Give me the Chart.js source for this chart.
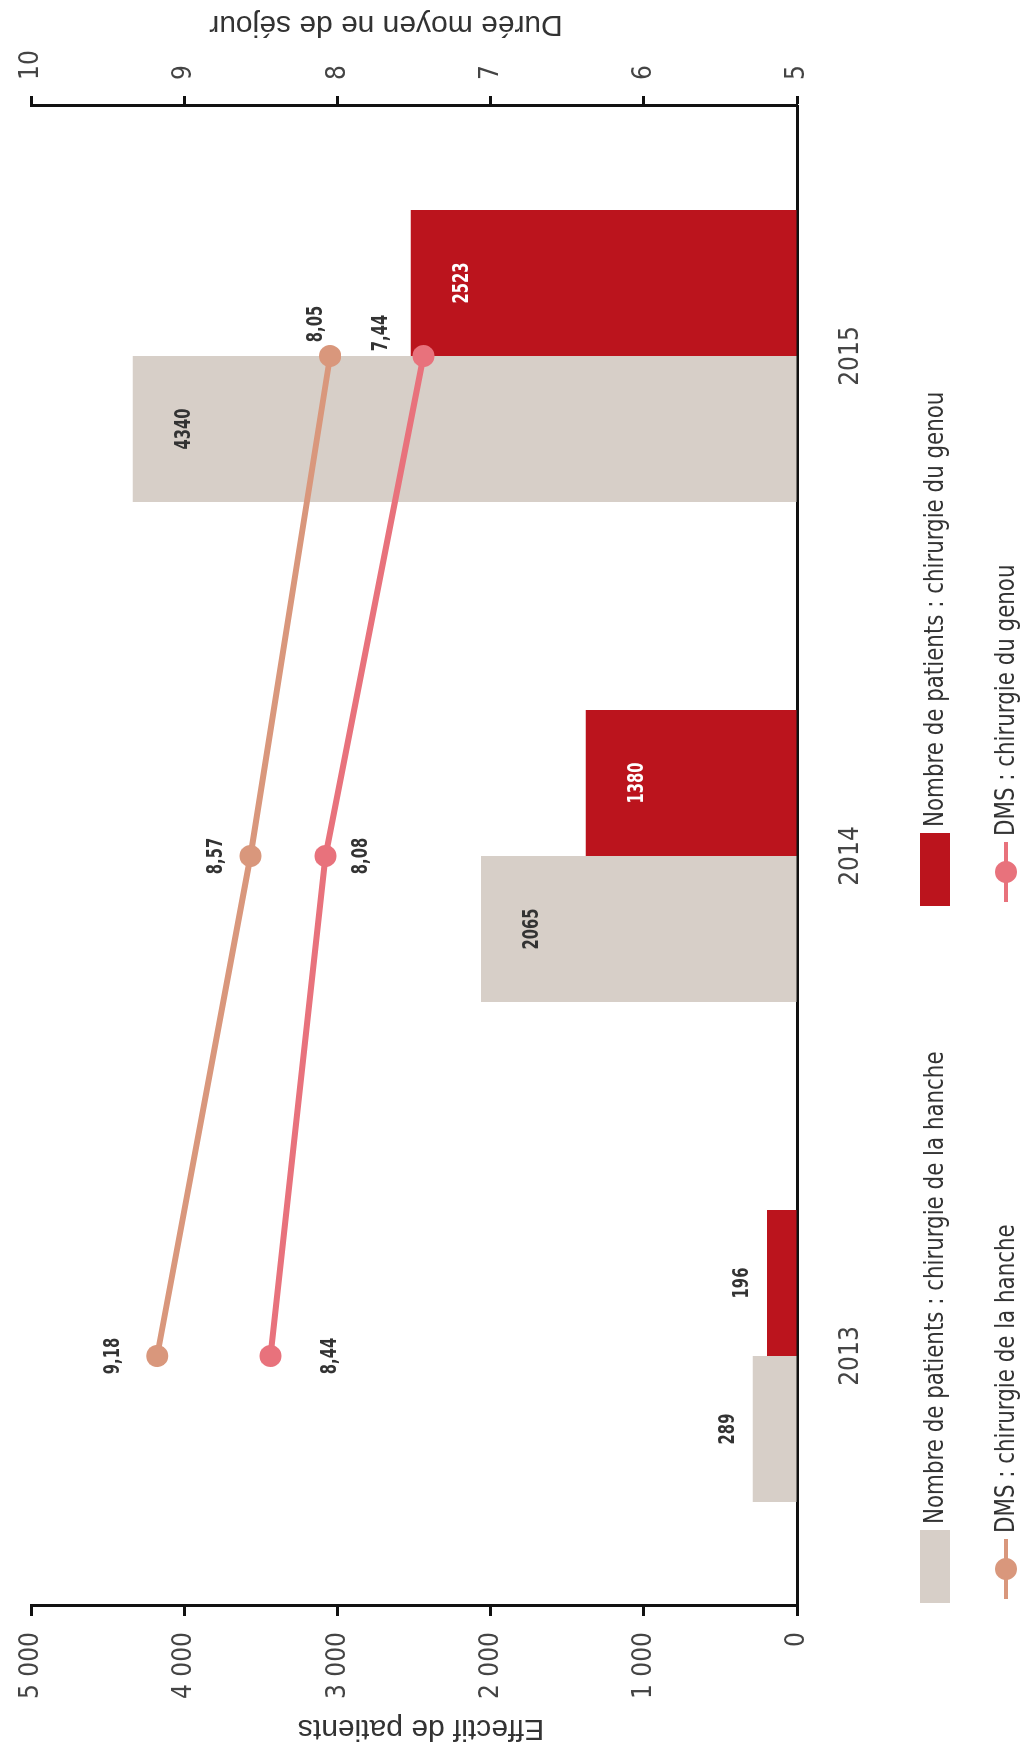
<!DOCTYPE html>
<html lang="fr">
<head>
<meta charset="utf-8">
<title>Effectif et DMS</title>
<style>
  html, body { margin: 0; padding: 0; background: #fff; overflow: hidden; }
  /* the chart is drawn landscape, then turned a quarter left */
  #wrap {
    position: absolute; left: 0; top: 0;
    width: 1758px; height: 1023px;
    transform-origin: 0 0;
    transform: translate(0, 1758px) rotate(-90deg);
  }
</style>
<script src="https://cdn.jsdelivr.net/npm/chart.js@4.4.0/dist/chart.umd.min.js"></script>
</head>
<body>
<div id="wrap"><canvas id="chart"></canvas></div>
<script>
const years = ['2013', '2014', '2015'];
const patientsHanche = [289, 2065, 4340];
const patientsGenou = [196, 1380, 2523];
const dmsHanche = [9.18, 8.57, 8.05];
const dmsGenou = [8.44, 8.08, 7.44];

const legendLabels = [
  'Nombre de patients : chirurgie de la hanche',
  'Nombre de patients : chirurgie du genou',
  'DMS : chirurgie de la hanche',
  'DMS : chirurgie du genou'
];

const GREY = '#d7cfc8';
const RED = '#bb141d';
const ORANGE = '#d9977c';
const PINK = '#e8727c';
const NARROW = '"Liberation Sans Narrow", "DejaVu Sans Condensed", "Roboto", sans-serif';

// where the value of each point sits, relative to the point (dx, dy)
const lineLabelOffsets = [
  [[0, -44], [0, -34], [32, -14]],
  [[0, 60], [0, 36], [23, -42]]
];

function frNumber(v) {
  return String(v).replace(/\B(?=(\d{3})+(?!\d))/g, ' ');
}

// squeezed text, the source uses a condensed face
function narrowText(ctx, txt, x, y, sx) {
  ctx.save();
  ctx.translate(x, y);
  ctx.scale(sx, 1);
  ctx.fillText(txt, 0, 0);
  ctx.restore();
}

const valueLabels = {
  id: 'valueLabels',
  afterDatasetsDraw(chart) {
    const ctx = chart.ctx;
    ctx.save();
    ctx.textAlign = 'center';
    ctx.textBaseline = 'middle';
    ctx.font = 'bold 21px ' + NARROW;
    chart.data.datasets.forEach((ds, di) => {
      const meta = chart.getDatasetMeta(di);
      meta.data.forEach((el, i) => {
        const v = ds.data[i];
        if (ds.type === 'bar') {
          const len = el.base - el.y;
          if (len > 70) {
            ctx.fillStyle = di === 1 ? '#fff' : '#333';
            narrowText(ctx, String(v), el.x, el.y + 52, 0.78);
          } else {
            ctx.fillStyle = '#333';
            narrowText(ctx, String(v), el.x, el.y - 24, 0.78);
          }
        } else {
          const off = lineLabelOffsets[di - 2][i];
          ctx.fillStyle = '#333';
          narrowText(ctx, v.toFixed(2).replace('.', ','), el.x + off[0], el.y + off[1], 0.78);
        }
      });
    });
    ctx.restore();
  }
};

// axis titles and the two-row legend
const extras = {
  id: 'extras',
  afterDraw(chart) {
    const ctx = chart.ctx;
    ctx.save();
    ctx.fillStyle = '#333';
    ctx.textAlign = 'center';
    ctx.textBaseline = 'middle';
    ctx.font = '30px "Liberation Sans", "Open Sans", sans-serif';
    [['Effectif de patients', 30, 421], ['Durée moyen ne de séjour', 1734, 386]].forEach(t => {
      ctx.save();
      ctx.translate(t[1], t[2]);
      ctx.rotate(-Math.PI / 2);
      ctx.fillText(t[0], 0, 0);
      ctx.restore();
    });

    const cols = [155, 852];
    const rows = [935, 1006];
    const colors = [GREY, RED, ORANGE, PINK];
    ctx.font = '27px ' + NARROW;
    ctx.textAlign = 'left';
    legendLabels.forEach((txt, k) => {
      const x = cols[k % 2];
      const y = rows[Math.floor(k / 2)];
      let tx;
      if (k < 2) {
        ctx.fillStyle = colors[k];
        ctx.fillRect(x, y - 15, 73, 30);
        tx = x + 79;
      } else {
        ctx.strokeStyle = colors[k];
        ctx.lineWidth = 4;
        ctx.beginPath();
        ctx.moveTo(x + 4, y);
        ctx.lineTo(x + 64, y);
        ctx.stroke();
        ctx.fillStyle = colors[k];
        ctx.beginPath();
        ctx.arc(x + 34, y, 11, 0, Math.PI * 2);
        ctx.fill();
        tx = x + 70;
      }
      ctx.fillStyle = '#333';
      narrowText(ctx, txt, tx, y + 1, 0.88);
    });
    ctx.restore();
  }
};

const ctx = document.getElementById('chart').getContext('2d');
new Chart(ctx, {
  data: {
    labels: years,
    datasets: [
      {
        type: 'bar',
        label: legendLabels[0],
        data: patientsHanche,
        backgroundColor: GREY,
        yAxisID: 'y',
        order: 2
      },
      {
        type: 'bar',
        label: legendLabels[1],
        data: patientsGenou,
        backgroundColor: RED,
        yAxisID: 'y',
        order: 2
      },
      {
        type: 'line',
        label: legendLabels[2],
        data: dmsHanche,
        borderColor: ORANGE,
        backgroundColor: ORANGE,
        borderWidth: 6,
        pointRadius: 11,
        pointBackgroundColor: ORANGE,
        pointBorderWidth: 0,
        yAxisID: 'y1',
        order: 1
      },
      {
        type: 'line',
        label: legendLabels[3],
        data: dmsGenou,
        borderColor: PINK,
        backgroundColor: PINK,
        borderWidth: 6,
        pointRadius: 11,
        pointBackgroundColor: PINK,
        pointBorderWidth: 0,
        yAxisID: 'y1',
        order: 1
      }
    ]
  },
  options: {
    responsive: true,
    maintainAspectRatio: false,
    animation: false,
    layout: { padding: { top: 23, left: 0, right: 0, bottom: 0 } },
    datasets: {
      bar: { categoryPercentage: 0.584, barPercentage: 1.0 }
    },
    plugins: {
      legend: { display: false },
      tooltip: { enabled: false }
    },
    scales: {
      x: {
        grid: { display: true, drawOnChartArea: false, drawTicks: false },
        border: { display: true, color: '#111', width: 3 },
        ticks: { padding: 39, color: '#444', font: { family: NARROW, size: 26 } },
        afterFit: s => { s.height = 226; }
      },
      y: {
        position: 'left',
        min: 0,
        max: 5000,
        grid: { display: true, drawOnChartArea: false, drawTicks: true, tickLength: 10, tickColor: '#111', tickWidth: 3 },
        border: { display: true, color: '#111', width: 3 },
        ticks: {
          stepSize: 1000,
          padding: 16,
          color: '#444',
          font: { family: NARROW, size: 26 },
          callback: v => frNumber(v)
        },
        afterFit: s => { s.width = 152; }
      },
      y1: {
        position: 'right',
        min: 5,
        max: 10,
        grid: { display: true, drawOnChartArea: false, drawTicks: true, tickLength: 10, tickColor: '#111', tickWidth: 3 },
        border: { display: true, color: '#111', width: 3 },
        ticks: { stepSize: 1, padding: 16, color: '#444', font: { family: NARROW, size: 26 } },
        afterFit: s => { s.width = 106; }
      }
    }
  },
  plugins: [valueLabels, extras]
});
</script>
</body>
</html>
